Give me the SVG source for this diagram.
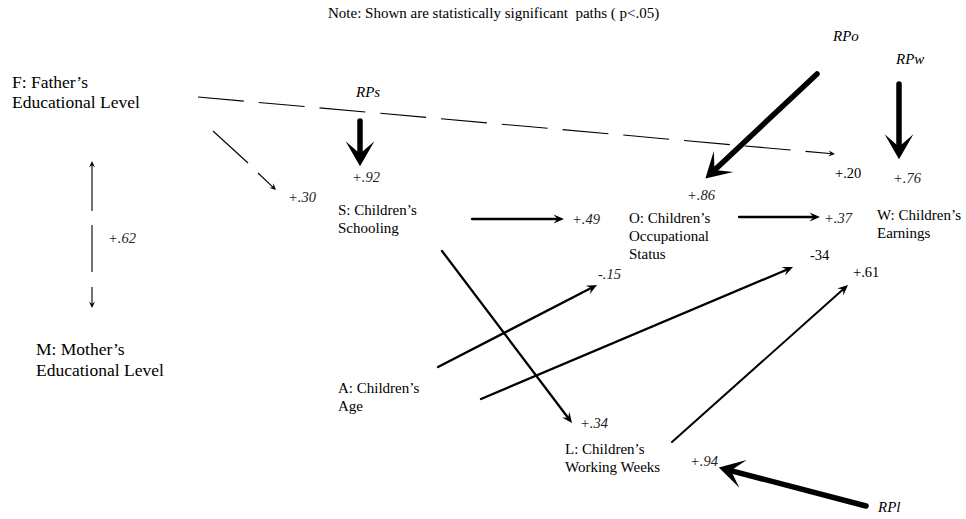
<svg xmlns="http://www.w3.org/2000/svg" width="966" height="519" viewBox="0 0 966 519">
  <style>
    text { font-family: "Liberation Serif", "Times New Roman", serif; fill: #000; }
    .lbl { font-size: 15px; }
    .big { font-size: 17.5px; }
    .note { font-size: 15px; white-space: pre; }
    .coef { font-size: 14.5px; font-style: italic; fill: #222; }
    .coef-r { font-size: 14.5px; }
    .rp { font-size: 15px; font-style: italic; }
    .thin { stroke: #000; stroke-width: 1.1; fill: none; }
    .mid { stroke: #000; stroke-width: 2.3; fill: none; stroke-linecap: round; }
    .thick { stroke: #000; stroke-width: 5.5; fill: none; stroke-linecap: round; }
  </style>
  <defs>
    <!-- arrowheads: tip sits ahead of the line end so the stroke stays inside the head -->
    <marker id="headThick" markerUnits="userSpaceOnUse" markerWidth="30" markerHeight="30" refX="0" refY="0" viewBox="-12 -12 24 24" orient="auto" overflow="visible">
      <path d="M9,0 L-11,-11.5 L-1,0 L-11,11.5 Z" fill="#000"/>
    </marker>
    <marker id="headMid" markerUnits="userSpaceOnUse" markerWidth="14" markerHeight="14" refX="0" refY="0" viewBox="-7 -7 14 14" orient="auto" overflow="visible">
      <path d="M5,0 L-5.5,-4.6 L-1.5,0 L-5.5,4.6 Z" fill="#000"/>
    </marker>
    <marker id="headThin" markerUnits="userSpaceOnUse" markerWidth="10" markerHeight="10" refX="0" refY="0" viewBox="-5 -5 10 10" orient="auto" overflow="visible">
      <path d="M2.5,0 L-4,-3 L-1.5,0 L-4,3 Z" fill="#000"/>
    </marker>
  </defs>

  <rect width="966" height="519" fill="#fff"/>

  <text class="note" x="328" y="18" xml:space="preserve">Note: Shown are statistically significant  paths ( p&lt;.05)</text>

  <!-- variables -->
  <g id="node-F">
    <text class="big" x="12" y="88">F: Father’s</text>
    <text class="big" x="12" y="108">Educational Level</text>
  </g>
  <g id="node-M">
    <text class="big" x="36" y="355">M: Mother’s</text>
    <text class="big" x="36" y="376">Educational Level</text>
  </g>
  <g id="node-S">
    <text class="lbl" x="338" y="215">S: Children’s</text>
    <text class="lbl" x="338" y="233">Schooling</text>
  </g>
  <g id="node-A">
    <text class="lbl" x="338" y="393">A: Children’s</text>
    <text class="lbl" x="338" y="411">Age</text>
  </g>
  <g id="node-O">
    <text class="lbl" x="629" y="223">O: Children’s</text>
    <text class="lbl" x="629" y="241">Occupational</text>
    <text class="lbl" x="629" y="259">Status</text>
  </g>
  <g id="node-W">
    <text class="lbl" x="877" y="220">W: Children’s</text>
    <text class="lbl" x="877" y="238">Earnings</text>
  </g>
  <g id="node-L">
    <text class="lbl" x="565" y="454">L: Children’s</text>
    <text class="lbl" x="565" y="472">Working Weeks</text>
  </g>

  <!-- residual paths -->
  <g id="node-RPs"><text class="rp" x="356" y="97">RPs</text></g>
  <g id="node-RPo"><text class="rp" x="833" y="41">RPo</text></g>
  <g id="node-RPw"><text class="rp" x="896" y="64">RPw</text></g>
  <g id="node-RPl"><text class="rp" x="878" y="512">RPl</text></g>

  <!-- connectors -->
  <g id="connectors">
    <!-- F <-> M correlation -->
    <line class="thin" x1="92" y1="211" x2="92" y2="163.5" marker-end="url(#headThin)"/>
    <line class="thin" x1="92" y1="225" x2="92" y2="272"/>
    <line class="thin" x1="92" y1="287" x2="92" y2="305.5" marker-end="url(#headThin)"/>

    <!-- F -> S -->
    <line class="thin" x1="213" y1="131" x2="248" y2="163"/>
    <line class="thin" x1="258" y1="173" x2="274.2" y2="188.3" marker-end="url(#headThin)"/>

    <!-- F -> W (dashed) -->
    <line class="thin" x1="198" y1="97" x2="832.5" y2="153.8" stroke-dasharray="46 15" marker-end="url(#headThin)"/>

    <!-- S -> O, O -> W -->
    <line class="mid" x1="472" y1="219" x2="559" y2="219" marker-end="url(#headMid)"/>
    <line class="mid" x1="739" y1="217" x2="815" y2="217" marker-end="url(#headMid)"/>

    <!-- S -> L -->
    <line class="mid" x1="442" y1="251" x2="569" y2="419" marker-end="url(#headMid)"/>

    <!-- A -> O, A -> W -->
    <line class="mid" x1="438" y1="367" x2="592.6" y2="287.3" marker-end="url(#headMid)"/>
    <line class="mid" x1="481" y1="399" x2="788.4" y2="269" marker-end="url(#headMid)"/>

    <!-- L -> W -->
    <line class="mid" style="stroke-width:2" x1="672" y1="442" x2="844.3" y2="288.3" marker-end="url(#headMid)"/>

    <!-- residuals -->
    <line class="thick" x1="360" y1="121" x2="360" y2="155" marker-end="url(#headThick)"/>
    <line class="thick" x1="817" y1="74" x2="713.6" y2="170.9" marker-end="url(#headThick)"/>
    <line class="thick" x1="899" y1="84" x2="899" y2="148" marker-end="url(#headThick)"/>
    <line class="thick" x1="866" y1="506" x2="729.7" y2="470.3" marker-end="url(#headThick)"/>
  </g>

  <!-- path coefficients -->
  <g id="coefficients">
    <text class="coef" x="108" y="243">+.62</text>
    <text class="coef" x="288" y="202">+.30</text>
    <text class="coef" x="352" y="182">+.92</text>
    <text class="coef" x="572" y="224">+.49</text>
    <text class="coef" x="687" y="200">+.86</text>
    <text class="coef" x="824" y="223">+.37</text>
    <text class="coef-r" x="835" y="178">+.20</text>
    <text class="coef" x="893" y="183">+.76</text>
    <text class="coef-r" x="810" y="260">-34</text>
    <text class="coef-r" x="853" y="277">+.61</text>
    <text class="coef" x="598" y="279">-.15</text>
    <text class="coef" x="580" y="428">+.34</text>
    <text class="coef" x="690" y="466">+.94</text>
  </g>
</svg>
